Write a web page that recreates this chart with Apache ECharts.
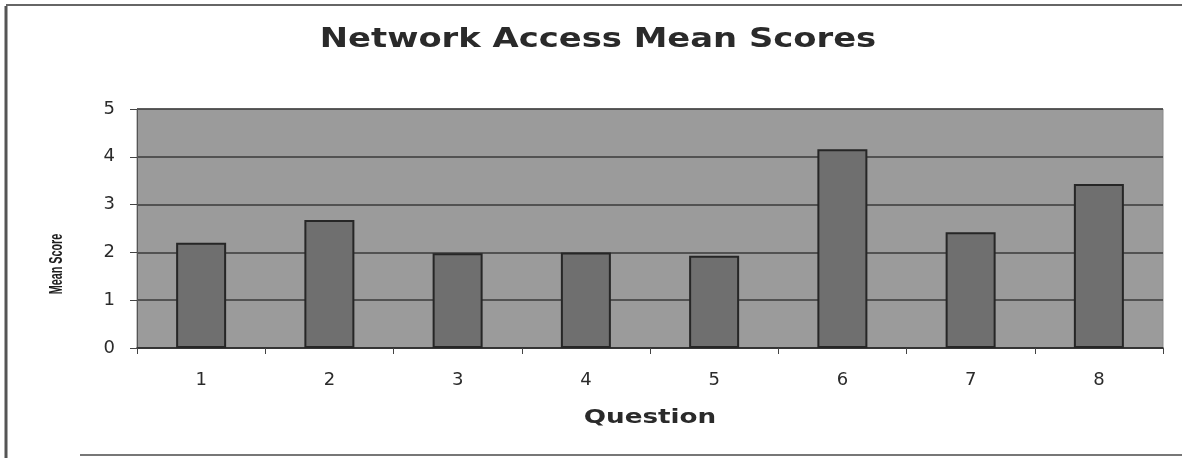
<!DOCTYPE html>
<html>
<head>
<meta charset="utf-8">
<script src="https://cdn.jsdelivr.net/npm/echarts@6/dist/echarts.min.js"></script>
<style>
  html, body { margin: 0; padding: 0; background: #ffffff; }
  #chart { width: 1182px; height: 458px; }
</style>
</head>
<body>
<div id="chart"></div>
<script>
// Question numbers and their mean scores
const questions = ['1', '2', '3', '4', '5', '6', '7', '8'];
const meanScores = [2.20, 2.68, 1.98, 2.00, 1.93, 4.16, 2.42, 3.43];
const scoreTicks = { min: 0, max: 5, interval: 1 };

const titleText = 'Network Access Mean Scores';
const xName = 'Question';
const yName = 'Mean Score';

const chart = echarts.init(document.getElementById('chart'), null, { renderer: 'canvas' });

const option = {
  backgroundColor: '#ffffff',
  animation: false,
  grid: {
    left: 137, right: 19, top: 109, bottom: 110,
    show: true,
    backgroundColor: '#9b9b9b',
    borderColor: '#8a8a8a',
    borderWidth: 1
  },
  xAxis: {
    type: 'category',
    data: questions,
    boundaryGap: true,
    axisLine: { show: true, lineStyle: { color: '#2a2a2a', width: 1.5 } },
    axisTick: { show: true, alignWithLabel: false, length: 6, lineStyle: { color: '#444', width: 1 } },
    axisLabel: {
      margin: 23,
      fontFamily: 'DejaVu Sans',
      fontSize: 18,
      color: '#2b2b2b'
    },
    splitLine: { show: false }
  },
  yAxis: {
    type: 'value',
    min: scoreTicks.min,
    max: scoreTicks.max,
    interval: scoreTicks.interval,
    axisLine: { show: true, lineStyle: { color: '#555', width: 1 } },
    axisTick: { show: true, length: 7, lineStyle: { color: '#444', width: 1 } },
    axisLabel: {
      margin: 22,
      fontFamily: 'DejaVu Sans',
      fontSize: 18,
      color: '#2b2b2b'
    },
    splitLine: { show: true, lineStyle: { color: '#3a3a3a', width: 1.5 } }
  },
  series: [{
    type: 'bar',
    data: meanScores,
    barWidth: 50,
    itemStyle: {
      color: '#6f6f6f',
      borderColor: '#262626',
      borderWidth: 2
    }
  }],
  graphic: [
    // page frame
    { type: 'line', shape: { x1: 6, y1: 6, x2: 6, y2: 458 }, style: { stroke: '#555', lineWidth: 3 } },
    { type: 'line', shape: { x1: 6, y1: 5, x2: 1182, y2: 5 }, style: { stroke: '#666', lineWidth: 2 } },
    { type: 'line', shape: { x1: 80, y1: 455, x2: 1182, y2: 455 }, style: { stroke: '#777', lineWidth: 2 } },
    // chart title
    {
      type: 'text', x: 598, y: 40, scaleX: 1.3,
      style: {
        text: titleText, fontFamily: 'DejaVu Sans', fontWeight: 'bold', fontSize: 26,
        fill: '#2a2a2a', align: 'center', verticalAlign: 'middle'
      }
    },
    // x axis title
    {
      type: 'text', x: 650, y: 418, scaleX: 1.38,
      style: {
        text: xName, fontFamily: 'DejaVu Sans', fontWeight: 'bold', fontSize: 19,
        fill: '#2a2a2a', align: 'center', verticalAlign: 'middle'
      }
    },
    // y axis title
    {
      type: 'text', x: 57, y: 264, rotation: Math.PI / 2, scaleX: 0.6,
      style: {
        text: yName, fontFamily: 'Liberation Sans', fontWeight: 'bold', fontSize: 18,
        fill: '#1e1e1e', align: 'center', verticalAlign: 'middle'
      }
    }
  ]
};

chart.setOption(option);
</script>
</body>
</html>
